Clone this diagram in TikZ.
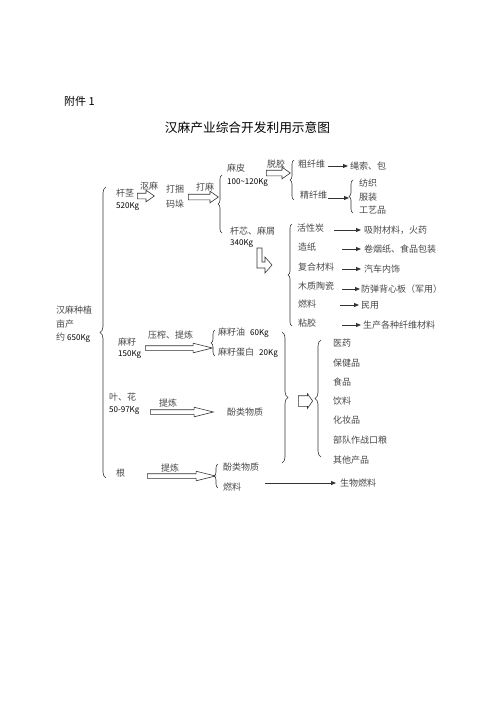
\documentclass[tikz,border=0pt]{standalone}
\usepackage{fontspec}
\setmainfont{Noto Sans CJK SC}
\usetikzlibrary{shapes.arrows,decorations.pathreplacing,arrows.meta}
\newcommand\numsz{\fontsize{8}{8}\selectfont}
\tikzset{
lbl/.style={anchor=west,inner sep=1pt,text=black!72,font=\fontsize{9}{9}\selectfont},
qty/.style={anchor=west,inner sep=1pt,text=black,font=\numsz},
fat/.style={single arrow,draw=black!80,line width=0.6pt,anchor=west,inner sep=2.5pt,
  single arrow head extend=3pt,single arrow tip angle=70,minimum height=#1},
slim/.style={single arrow,draw=black!80,line width=0.6pt,anchor=west,inner sep=2pt,
  single arrow head extend=2.5pt,single arrow tip angle=28,minimum height=#1},
curly/.style={decorate,decoration={brace,amplitude=#1},draw=black!80,line width=0.6pt},
curly/.default=4pt,
conn/.style={-{Triangle[length=5pt,width=4pt]},line width=0.9pt,draw=black!80}}

\begin{document}
\begin{tikzpicture}[x=1pt,y=-1pt]
\useasboundingbox (0,0) rectangle (496,702);
\node[anchor=west,inner sep=0pt,font=\fontsize{11}{11}\selectfont] (fujian) at (64,101) {附件 1};
\node[inner sep=0pt,font=\fontsize{12.7}{13}\selectfont] (title) at (247.5,128) {汉麻产业综合开发利用示意图};

% plant
\node[lbl] (zhong) at (55,310) {汉麻种植};
\node[lbl] (mu) at (55,324) {亩产};
\node[lbl] (yue) at (55,338) {约 {\color{black}\numsz 650Kg}};
\draw[curly=6pt] (106,478) -- (106,187);

% stem
\node[lbl] (ganjing) at (115,193) {杆茎};
\node[qty] (w520) at (115,207) {520Kg};
\node[lbl] (ouma) at (139,186) {沤麻};
\node[fat=17pt] (ar1) at (137,196) {};
\node[lbl] (dakun) at (165,189) {打捆};
\node[lbl] (maduo) at (165,204) {码垛};
\node[lbl] (dama) at (195,187) {打麻};
\node[fat=30pt] (ar2) at (188,197) {};
\draw[curly] (222,233) -- (222,175);
\node[lbl] (mapi) at (226,168) {麻皮};
\node[qty] (w100) at (226,183) {100\textasciitilde120Kg};
\node[lbl] (tuojiao) at (266,164) {脱胶};
\node[fat=24pt] (ar3) at (266,173) {};
\draw[curly] (294,200) -- (294,160);
\node[lbl] (cu) at (297,164) {粗纤维};
\node[lbl] (shengsuo) at (349,166) {绳索、包};
\draw[conn,shorten <=2pt,shorten >=1pt] (cu.east |- shengsuo.west) -- (shengsuo.west);
\node[lbl] (jing) at (299,195) {精纤维};
\coordinate (fzb) at (349,198);
\draw[conn] (jing.east |- fzb) -- (fzb);
\draw[curly] (353,213) -- (353,180);
\node[lbl] (fangzhi) at (358,183) {纺织};
\node[lbl] (fuzhuang) at (358,197) {服装};
\node[lbl] (gongyi) at (358,210) {工艺品};

% core
\node[lbl] (ganxin) at (229,231) {杆芯、麻屑};
\node[qty] (w340) at (229,244) {340Kg};
\draw[black!80,line width=0.6pt] (257,248) -- (262,248) -- (262,262) -- (265,262) -- (265,257)
  -- (272,265) -- (265,273) -- (265,268) -- (257,268) -- cycle;
\draw[curly] (292,326) -- (292,224);
\node[lbl] (huo) at (296,228) {活性炭};
\node[lbl] (zao) at (297,247) {造纸};
\node[lbl] (fuhe) at (297,267) {复合材料};
\node[lbl] (mutao) at (297,286) {木质陶瓷};
\node[lbl] (ran1) at (297,304) {燃料};
\node[lbl] (nian) at (297,323) {粘胶};
\node[lbl] (xifu) at (363,230) {吸附材料，火药};
\node[lbl] (juan) at (363,249) {卷烟纸、食品包装};
\node[lbl] (qiche) at (363,269) {汽车内饰};
\node[lbl] (fangdan) at (360,289) {防弹背心板（军用）};
\node[lbl] (minyong) at (360,305) {民用};
\node[lbl] (xianwei) at (362,325) {生产各种纤维材料};
\draw[conn,shorten <=9pt,shorten >=2pt] (huo.east |- xifu.west) -- (xifu.west);
\draw[conn,shorten <=25pt,shorten >=2pt] (zao.east |- juan.west) -- (juan.west);
\draw[conn,shorten <=7pt,shorten >=2pt] (fuhe.east |- qiche.west) -- (qiche.west);
\draw[conn,shorten <=7pt,shorten >=0pt] (mutao.east |- fangdan.west) -- (fangdan.west);
\draw[conn,shorten <=23pt,shorten >=1pt] (ran1.east |- minyong.west) -- (minyong.west);
\draw[conn,shorten <=25pt,shorten >=1pt] (nian.east |- xianwei.west) -- (xianwei.west);

% seed
\node[lbl] (mazi) at (117,342) {麻籽};
\node[qty] (w150) at (117,355) {150Kg};
\node[lbl] (yazha) at (147,335) {压榨、提炼};
\node[slim=67pt] (ar4) at (145,348) {};
\draw[curly] (215,356) -- (215,330);
\node[lbl] (maziyou) at (217,333) {麻籽油\hspace{5pt}{\color{black}\numsz 60Kg}};
\node[lbl] (danbai) at (217,353) {麻籽蛋白\hspace{5pt}{\color{black}\numsz 20Kg}};
\draw[curly=6pt] (282,332) -- (282,463);
\node[single arrow,draw=black!80,line width=0.6pt,anchor=west,inner sep=5pt,
  single arrow head extend=2pt,single arrow tip angle=110,minimum height=13pt] (ar5) at (298,401) {};
\draw[curly=6pt] (321,457) -- (321,340);
\node[lbl] (yiyao) at (332,343) {医药};
\node[lbl] (baojian) at (332,363) {保健品};
\node[lbl] (shipin) at (332,382) {食品};
\node[lbl] (yinliao) at (332,401) {饮料};
\node[lbl] (huazhuang) at (332,420) {化妆品};
\node[lbl] (kouliang) at (332,440) {部队作战口粮};
\node[lbl] (qita) at (332,460) {其他产品};

% leaf, flower
\node[lbl] (yehua) at (108,397) {叶、花};
\node[qty] (w50) at (108,411) {50-97Kg};
\node[lbl] (tilian1) at (158,403) {提炼};
\node[slim=63pt] (ar6) at (150,412) {};
\node[lbl] (fenlei1) at (226,412) {酚类物质};

% root
\node[lbl] (gen) at (115,473) {根};
\node[lbl] (tilian2) at (160,468) {提炼};
\node[slim=68pt] (ar7) at (147,476) {};
\draw[curly] (218,488) -- (218,464);
\node[lbl] (fenlei2) at (222,467) {酚类物质};
\node[lbl] (ran2) at (222,487) {燃料};
\node[lbl] (shengwu) at (339,483) {生物燃料};
\draw[conn,shorten <=23pt,shorten >=3pt] (ran2.east |- shengwu.west) -- (shengwu.west);
\end{tikzpicture}
\end{document}
